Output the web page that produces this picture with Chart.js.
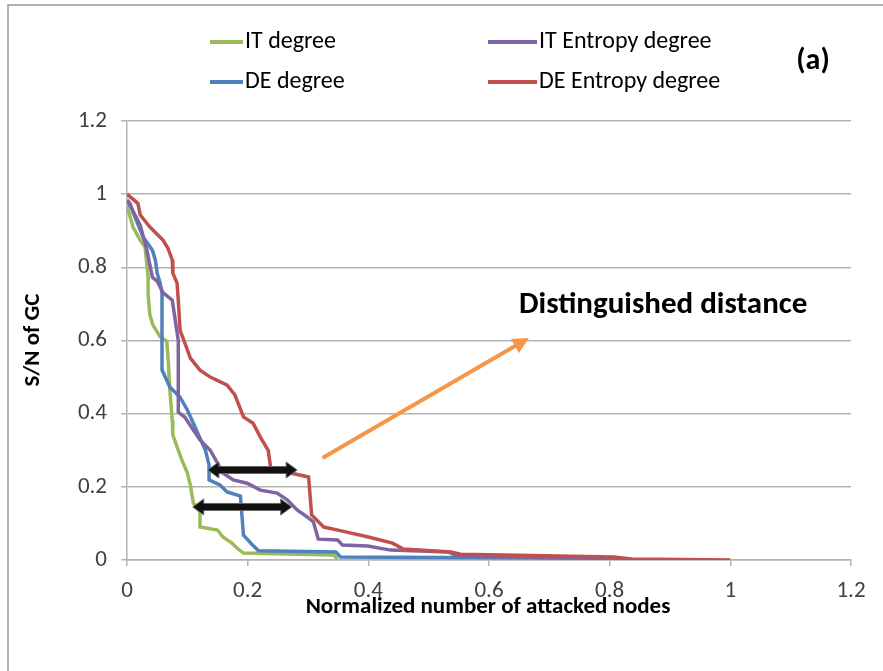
<!DOCTYPE html>
<html lang="en">
<head>
    <meta charset="UTF-8">
    <title>S/N of GC vs attacked nodes</title>
    <script src="https://cdn.jsdelivr.net/npm/chart.js"></script>
    <style>
        body { margin: 0; background: #fff; }
        #wrap { position: relative; width: 883px; height: 671px; }
    </style>
    <script>
        // series values: [x, S/N]
        const itDegree = [
            [0, 0.97], [0.002, 0.956], [0.01, 0.91], [0.022, 0.874], [0.03, 0.855], [0.035, 0.773],
            [0.035, 0.724], [0.038, 0.669], [0.043, 0.642], [0.055, 0.61], [0.066, 0.598], [0.068, 0.555],
            [0.071, 0.465], [0.075, 0.383], [0.076, 0.342], [0.085, 0.30], [0.091, 0.273], [0.1, 0.238],
            [0.105, 0.205], [0.11, 0.156], [0.121, 0.131], [0.121, 0.09], [0.15, 0.082], [0.159, 0.063],
            [0.174, 0.046], [0.184, 0.03], [0.193, 0.019], [0.342, 0.014], [0.349, 0.003]
        ];
        const deDegree = [
            [0, 0.984], [0.005, 0.975], [0.01, 0.95], [0.027, 0.882], [0.042, 0.847], [0.047, 0.82],
            [0.05, 0.784], [0.055, 0.757], [0.058, 0.73], [0.058, 0.52], [0.071, 0.473], [0.088, 0.445],
            [0.1, 0.41], [0.11, 0.374], [0.121, 0.333], [0.13, 0.30], [0.136, 0.26], [0.136, 0.219],
            [0.154, 0.205], [0.166, 0.186], [0.188, 0.175], [0.193, 0.068], [0.208, 0.041], [0.218, 0.025],
            [0.346, 0.022], [0.354, 0.008], [0.786, 0.005], [0.82, 0.0]
        ];
        const itEntropy = [
            [0, 0.984], [0.005, 0.97], [0.022, 0.915], [0.033, 0.847], [0.042, 0.773], [0.05, 0.762],
            [0.06, 0.73], [0.075, 0.71], [0.085, 0.60], [0.085, 0.404], [0.096, 0.39], [0.11, 0.355],
            [0.121, 0.328], [0.138, 0.30], [0.15, 0.265], [0.159, 0.238], [0.176, 0.219], [0.199, 0.21],
            [0.221, 0.191], [0.249, 0.183], [0.266, 0.164], [0.282, 0.137], [0.299, 0.117], [0.309, 0.104],
            [0.317, 0.057], [0.349, 0.055], [0.357, 0.041], [0.399, 0.038], [0.437, 0.027], [0.532, 0.022],
            [0.548, 0.011], [0.786, 0.005], [0.85, 0.0]
        ];
        const deEntropy = [
            [0, 1.0], [0.018, 0.975], [0.022, 0.943], [0.038, 0.91], [0.06, 0.874], [0.068, 0.852],
            [0.075, 0.82], [0.076, 0.784], [0.083, 0.757], [0.085, 0.71], [0.088, 0.628], [0.096, 0.593],
            [0.105, 0.552], [0.121, 0.519], [0.138, 0.50], [0.166, 0.478], [0.179, 0.451], [0.193, 0.391],
            [0.209, 0.374], [0.221, 0.336], [0.234, 0.30], [0.238, 0.254], [0.271, 0.238], [0.301, 0.227],
            [0.306, 0.123], [0.326, 0.09], [0.357, 0.079], [0.40, 0.063], [0.44, 0.046], [0.458, 0.03],
            [0.537, 0.022], [0.553, 0.016], [0.807, 0.008], [0.836, 0.003], [1.0, 0.0]
        ];

        const seriesNames = ["IT degree", "DE degree", "IT Entropy degree", "DE Entropy degree"];
        const seriesColors = ["#9bbb59", "#4f81bd", "#8064a2", "#c0504d"];
        const xTicks = [0, 0.2, 0.4, 0.6, 0.8, 1, 1.2];
        const yTicks = [0, 0.2, 0.4, 0.6, 0.8, 1, 1.2];

        const FONT = "Carlito, 'Liberation Sans Narrow', 'Open Sans', sans-serif";

        function toPoints(arr) {
            return arr.map(p => ({ x: p[0], y: p[1] }));
        }

        // legend, labels and the arrows drawn on top of the plot
        const decorPlugin = {
            id: "decor",
            afterDatasetsDraw(chart) {
                const ctx = chart.ctx;
                const xs = chart.scales.x, ys = chart.scales.y;
                ctx.save();

                // black double arrows (distance markers)
                function dblArrow(x1, x2, y) {
                    const a = xs.getPixelForValue(x1), b = xs.getPixelForValue(x2), c = ys.getPixelForValue(y);
                    ctx.fillStyle = "#111";
                    ctx.strokeStyle = "#666";
                    ctx.lineWidth = 1;
                    ctx.beginPath();
                    ctx.moveTo(a, c);
                    ctx.lineTo(a + 11, c - 8);
                    ctx.lineTo(a + 11, c - 3.5);
                    ctx.lineTo(b - 11, c - 3.5);
                    ctx.lineTo(b - 11, c - 8);
                    ctx.lineTo(b, c);
                    ctx.lineTo(b - 11, c + 8);
                    ctx.lineTo(b - 11, c + 3.5);
                    ctx.lineTo(a + 11, c + 3.5);
                    ctx.lineTo(a + 11, c + 8);
                    ctx.closePath();
                    ctx.fill();
                    ctx.stroke();
                }
                dblArrow(0.134, 0.282, 0.246);
                dblArrow(0.109, 0.273, 0.145);

                // orange pointer
                const tx = xs.getPixelForValue(0.324), ty = ys.getPixelForValue(0.279);
                const hx = xs.getPixelForValue(0.666), hy = ys.getPixelForValue(0.607);
                const ang = Math.atan2(hy - ty, hx - tx);
                ctx.strokeStyle = "#f79646";
                ctx.fillStyle = "#f79646";
                ctx.lineWidth = 4;
                ctx.beginPath();
                ctx.moveTo(tx, ty);
                ctx.lineTo(hx - 8 * Math.cos(ang), hy - 8 * Math.sin(ang));
                ctx.stroke();
                ctx.beginPath();
                ctx.moveTo(hx, hy);
                ctx.lineTo(hx - 16 * Math.cos(ang) + 8 * Math.sin(ang), hy - 16 * Math.sin(ang) - 8 * Math.cos(ang));
                ctx.lineTo(hx - 16 * Math.cos(ang) - 8 * Math.sin(ang), hy - 16 * Math.sin(ang) + 8 * Math.cos(ang));
                ctx.closePath();
                ctx.fill();

                ctx.fillStyle = "#000";
                ctx.font = "bold 31px " + FONT;
                ctx.textAlign = "left";
                ctx.textBaseline = "middle";
                ctx.fillText("Distinguished distance", 519, 305);

                // legend
                const spots = [[210, 42], [210, 82], [488, 42], [488, 82]];
                ctx.font = "24px " + FONT;
                seriesNames.forEach((name, i) => {
                    const [lx, ly] = spots[i];
                    ctx.strokeStyle = seriesColors[i];
                    ctx.lineWidth = 4;
                    ctx.beginPath();
                    ctx.moveTo(lx, ly);
                    ctx.lineTo(lx + (i < 2 ? 33 : 49), ly);
                    ctx.stroke();
                    ctx.fillStyle = "#000";
                    ctx.fillText(name, lx + (i < 2 ? 35 : 51), ly);
                });

                ctx.font = "bold 30px " + FONT;
                ctx.textAlign = "center";
                ctx.fillText("(a)", 813, 61);

                // axis titles
                ctx.font = "bold 23px " + FONT;
                ctx.fillText("Normalized number of attacked nodes", 488, 607);
                ctx.translate(33, 340);
                ctx.rotate(-Math.PI / 2);
                ctx.fillText("S/N of GC", 0, 0);
                ctx.restore();

                // frame around the picture
                ctx.save();
                ctx.strokeStyle = "#999";
                ctx.lineWidth = 1.5;
                ctx.beginPath();
                ctx.moveTo(8, 671);
                ctx.lineTo(8, 5);
                ctx.lineTo(883, 5);
                ctx.stroke();
                ctx.restore();
            }
        };

        window.addEventListener("load", function () {
            const ctx = document.getElementById("chart").getContext("2d");
            const dataArrays = [itDegree, deDegree, itEntropy, deEntropy];
            const drawOrder = [3, 2, 1, 0];

            new Chart(ctx, {
                type: "scatter",
                data: {
                    datasets: dataArrays.map((arr, i) => ({
                        label: seriesNames[i],
                        data: toPoints(arr),
                        showLine: true,
                        borderColor: seriesColors[i],
                        backgroundColor: seriesColors[i],
                        borderWidth: 3.5,
                        pointRadius: 0,
                        tension: 0,
                        order: drawOrder[i]
                    }))
                },
                options: {
                    responsive: false,
                    animation: false,
                    layout: { padding: { left: 0, top: 121, right: 32, bottom: 0 } },
                    plugins: { legend: { display: false }, tooltip: { enabled: false } },
                    scales: {
                        x: {
                            type: "linear",
                            min: 0, max: 1.2,
                            afterBuildTicks: s => { s.ticks = xTicks.map(v => ({ value: v })); },
                            afterFit: s => { s.height = 111; },
                            grid: { drawOnChartArea: false, drawTicks: true, tickLength: 6, color: "#b3b3b3", lineWidth: 1.5 },
                            border: { color: "#b3b3b3", width: 1.5 },
                            ticks: { color: "#404040", font: { family: FONT, size: 23 }, padding: 11, maxRotation: 0,
                                callback: v => String(v) }
                        },
                        y: {
                            type: "linear",
                            min: 0, max: 1.2,
                            afterBuildTicks: s => { s.ticks = yTicks.map(v => ({ value: v })); },
                            afterFit: s => { s.width = 127; },
                            grid: { drawTicks: true, tickLength: 6, color: "#b3b3b3", lineWidth: 1.5 },
                            border: { color: "#b3b3b3", width: 1.5 },
                            ticks: { color: "#404040", font: { family: FONT, size: 23 }, padding: 14,
                                callback: v => String(v) }
                        }
                    }
                },
                plugins: [decorPlugin]
            });
        });
    </script>
</head>
<body>
    <div id="wrap">
        <canvas id="chart" width="883" height="671"></canvas>
    </div>
</body>
</html>
